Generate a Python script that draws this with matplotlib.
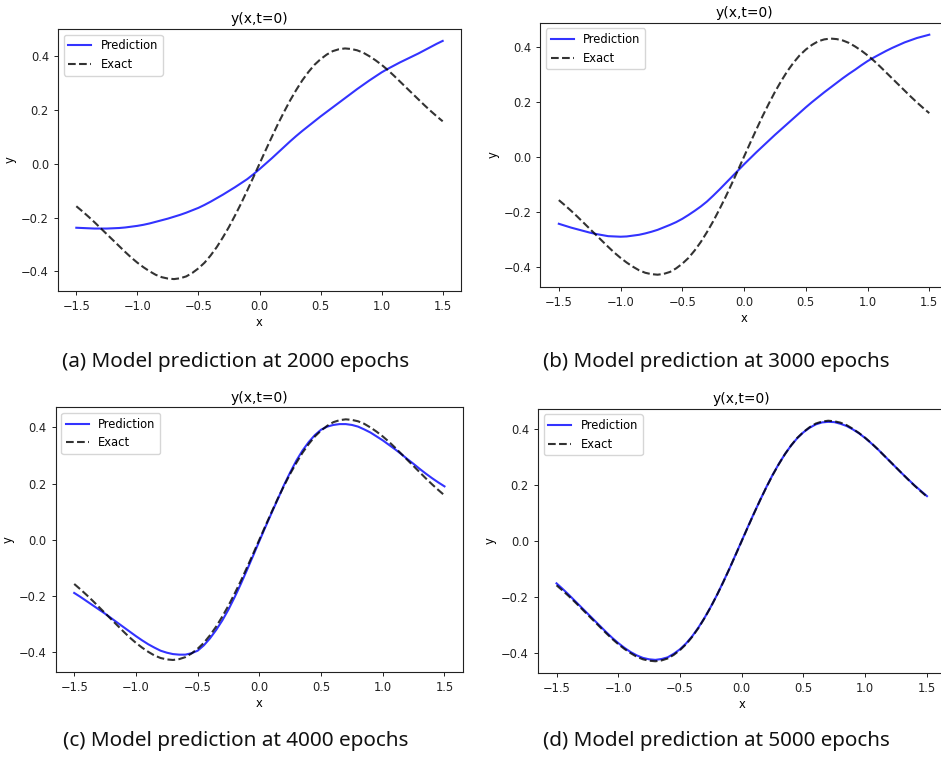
import matplotlib
matplotlib.use("Agg")
import matplotlib.pyplot as plt
from matplotlib import font_manager

x_vals = [-1.50, -1.45, -1.40, -1.35, -1.30, -1.25, -1.20, -1.15, -1.10, -1.05,
          -1.00, -0.95, -0.90, -0.85, -0.80, -0.75, -0.70, -0.65, -0.60, -0.55,
          -0.50, -0.45, -0.40, -0.35, -0.30, -0.25, -0.20, -0.15, -0.10, -0.05,
          0.00, 0.05, 0.10, 0.15, 0.20, 0.25, 0.30, 0.35, 0.40, 0.45,
          0.50, 0.55, 0.60, 0.65, 0.70, 0.75, 0.80, 0.85, 0.90, 0.95,
          1.00, 1.05, 1.10, 1.15, 1.20, 1.25, 1.30, 1.35, 1.40, 1.45, 1.50]

exact = [-0.158, -0.177, -0.197, -0.218, -0.240, -0.262, -0.284, -0.306, -0.328, -0.349,
         -0.368, -0.385, -0.400, -0.413, -0.422, -0.427, -0.429, -0.426, -0.419, -0.406,
         -0.389, -0.368, -0.341, -0.310, -0.274, -0.235, -0.192, -0.147, -0.099, -0.050,
         0.000, 0.050, 0.099, 0.147, 0.192, 0.235, 0.274, 0.310, 0.341, 0.368,
         0.389, 0.406, 0.419, 0.426, 0.429, 0.427, 0.422, 0.413, 0.400, 0.385,
         0.368, 0.349, 0.328, 0.306, 0.284, 0.262, 0.240, 0.218, 0.197, 0.177, 0.158]

pred_2000 = [-0.238, -0.239, -0.240, -0.241, -0.241, -0.241, -0.240, -0.239, -0.237, -0.234,
             -0.231, -0.227, -0.222, -0.216, -0.210, -0.204, -0.197, -0.190, -0.182, -0.173,
             -0.164, -0.153, -0.141, -0.128, -0.115, -0.101, -0.087, -0.072, -0.057, -0.039,
             -0.020, 0.000, 0.020, 0.041, 0.062, 0.083, 0.103, 0.122, 0.140, 0.158,
             0.176, 0.193, 0.210, 0.227, 0.244, 0.261, 0.278, 0.294, 0.310, 0.325,
             0.340, 0.353, 0.365, 0.377, 0.388, 0.399, 0.410, 0.422, 0.434, 0.446, 0.457]

pred_3000 = [-0.244, -0.251, -0.258, -0.264, -0.270, -0.276, -0.281, -0.285, -0.289, -0.290,
             -0.291, -0.290, -0.287, -0.284, -0.279, -0.273, -0.266, -0.257, -0.248, -0.238,
             -0.226, -0.212, -0.197, -0.181, -0.163, -0.142, -0.120, -0.097, -0.074, -0.051,
             -0.028, -0.006, 0.016, 0.037, 0.058, 0.079, 0.099, 0.119, 0.139, 0.159,
             0.179, 0.198, 0.216, 0.234, 0.251, 0.268, 0.285, 0.301, 0.316, 0.332,
             0.347, 0.360, 0.372, 0.384, 0.395, 0.405, 0.415, 0.423, 0.431, 0.437, 0.443]

pred_4000 = [-0.190, -0.204, -0.219, -0.234, -0.249, -0.264, -0.280, -0.296, -0.312, -0.328,
             -0.344, -0.359, -0.373, -0.385, -0.396, -0.403, -0.408, -0.410, -0.410, -0.405,
             -0.396, -0.377, -0.352, -0.322, -0.288, -0.249, -0.205, -0.158, -0.108, -0.057,
             -0.005, 0.046, 0.096, 0.145, 0.195, 0.240, 0.282, 0.318, 0.348, 0.373,
             0.392, 0.403, 0.409, 0.412, 0.412, 0.409, 0.403, 0.393, 0.382, 0.368,
             0.354, 0.338, 0.322, 0.305, 0.287, 0.270, 0.252, 0.235, 0.219, 0.204, 0.190]

pred_5000 = [-0.151, -0.171, -0.192, -0.214, -0.236, -0.258, -0.280, -0.302, -0.324, -0.345,
             -0.364, -0.381, -0.396, -0.408, -0.417, -0.422, -0.424, -0.421, -0.415, -0.402,
             -0.386, -0.365, -0.339, -0.308, -0.273, -0.234, -0.192, -0.146, -0.099, -0.049,
             0.001, 0.051, 0.100, 0.147, 0.193, 0.236, 0.275, 0.310, 0.341, 0.367,
             0.388, 0.404, 0.416, 0.423, 0.425, 0.424, 0.418, 0.410, 0.398, 0.384,
             0.367, 0.348, 0.328, 0.306, 0.284, 0.262, 0.240, 0.219, 0.198, 0.179, 0.160]

predictions = [pred_2000, pred_3000, pred_4000, pred_5000]
captions = ["(a) Model prediction at 2000 epochs",
            "(b) Model prediction at 3000 epochs",
            "(c) Model prediction at 4000 epochs",
            "(d) Model prediction at 5000 epochs"]
title_text = "y(x,t=0)"
xticks = [-1.5, -1.0, -0.5, 0.0, 0.5, 1.0, 1.5]
yticks = [-0.4, -0.2, 0.0, 0.2, 0.4]

W, H = 941, 757
fig = plt.figure(figsize=(W / 100, H / 100), dpi=100)

def rect(L, R, T, B):
    return [L / W, 1 - B / H, (R - L) / W, (B - T) / H]

rects = [rect(58, 461, 29, 291), rect(540.3, 947.8, 22.7, 286.7),
         rect(55.7, 463, 407.3, 672), rect(538, 945.5, 408.7, 673.3)]
cap_pos = [(236, 362), (716, 362), (236, 741), (716, 741)]

fs = 8.3
for r, pred in zip(rects, predictions):
    ax = fig.add_axes(r)
    ax.plot(x_vals, pred, color="blue", alpha=0.8, lw=1.5, label="Prediction")
    ax.plot(x_vals, exact, color="black", alpha=0.8, lw=1.5, ls="--", label="Exact")
    ax.set_xticks(xticks)
    ax.set_yticks(yticks)
    ax.tick_params(labelsize=fs, length=3, width=0.7, colors="#222222")
    for s in ax.spines.values():
        s.set_linewidth(0.8)
        s.set_color("#222222")
    ax.set_xlabel("x", fontsize=fs, labelpad=2)
    ax.set_ylabel("y", fontsize=fs, labelpad=3)
    ax.set_title(title_text, fontsize=10, pad=4)
    ax.legend(loc="upper left", fontsize=fs, framealpha=0.8)

names = {f.name for f in font_manager.fontManager.ttflist}
cap_family = "Liberation Sans Narrow" if "Liberation Sans Narrow" in names else "Noto Sans"

texts = []
for (cx, cy), cap in zip(cap_pos, captions):
    t = fig.text(cx / W, 1 - cy / H, cap, ha="center", va="center",
                 fontsize=14, family=cap_family, color="#111111")
    texts.append(t)

fig.canvas.draw()
rend = fig.canvas.get_renderer()
for t in texts:
    w = t.get_window_extent(rend).width
    t.set_fontsize(14 * 348 / w)

fig.savefig("out.png", dpi=100)
